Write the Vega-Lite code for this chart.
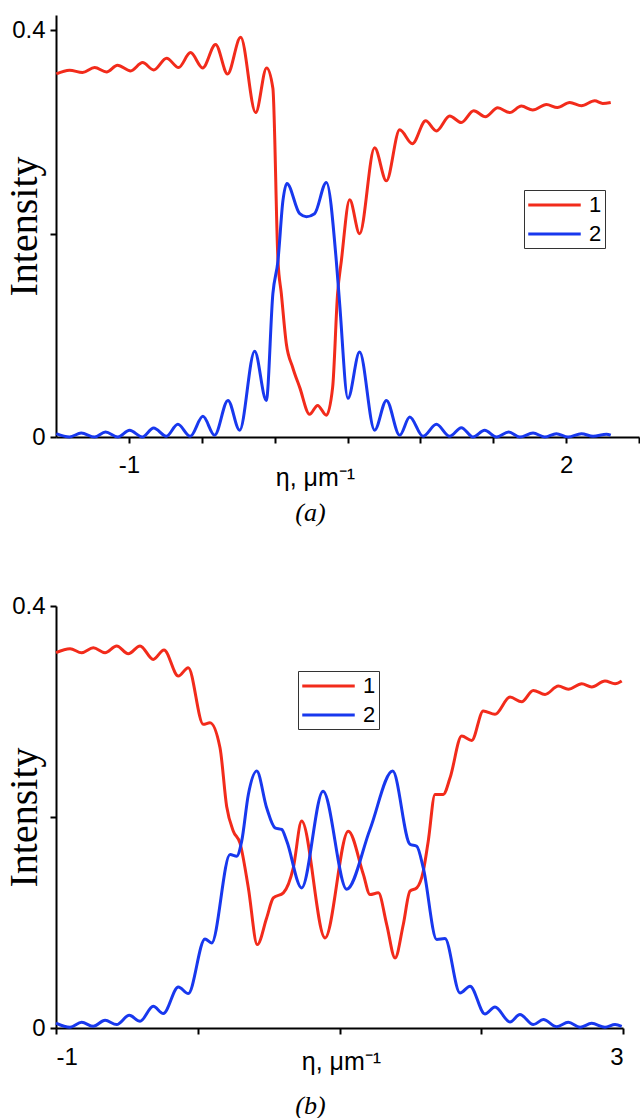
{
  "$schema": "https://vega.github.io/schema/vega-lite/v6.json",
  "autosize": {"type": "pad"},
  "padding": {"left": 4, "top": 15, "right": 0, "bottom": 0},
  "background": "white",
  "spacing": 68,
  "resolve": {"legend": {"color": "independent"}, "scale": {"color": "independent"}},
  "config": {
    "view": {"stroke": null},
    "axis": {"grid": false, "domainColor": "black", "domainWidth": 2, "tickColor": "black", "tickWidth": 2, "tickSize": 6, "labelFont": "Liberation Sans", "labelFontSize": 24, "labelColor": "black", "titleColor": "black"},
    "line": {"strokeWidth": 3, "interpolate": "monotone"},
    "legend": {"symbolType": "M-2.5,0H2.5", "symbolSize": 441, "symbolStrokeWidth": 3, "symbolOffset": 15.5, "labelFont": "Liberation Sans", "labelFontSize": 22, "labelColor": "black", "labelOffset": 22.5, "strokeColor": "#333333", "fillColor": "white", "padding": 3, "rowPadding": 6}
  },
  "datasets": {
    "a": [
      {"x": -1.498, "y": 0.357, "s": "1"}, {"x": -1.407, "y": 0.3607, "s": "1"}, {"x": -1.318, "y": 0.3584, "s": "1"}, {"x": -1.235, "y": 0.3633, "s": "1"}, {"x": -1.153, "y": 0.359, "s": "1"}, {"x": -1.078, "y": 0.3656, "s": "1"}, {"x": -0.988, "y": 0.36, "s": "1"}, {"x": -0.906, "y": 0.3682, "s": "1"}, {"x": -0.83, "y": 0.361, "s": "1"}, {"x": -0.741, "y": 0.3725, "s": "1"}, {"x": -0.659, "y": 0.3633, "s": "1"}, {"x": -0.577, "y": 0.378, "s": "1"}, {"x": -0.494, "y": 0.363, "s": "1"}, {"x": -0.405, "y": 0.386, "s": "1"}, {"x": -0.323, "y": 0.357, "s": "1"}, {"x": -0.233, "y": 0.393, "s": "1"}, {"x": -0.13, "y": 0.319, "s": "1"}, {"x": -0.055, "y": 0.363, "s": "1"}, {"x": -0.012, "y": 0.343, "s": "1"}, {"x": 0.023, "y": 0.1735, "s": "1"}, {"x": 0.046, "y": 0.141, "s": "1"}, {"x": 0.08, "y": 0.092, "s": "1"}, {"x": 0.124, "y": 0.0684, "s": "1"}, {"x": 0.172, "y": 0.0488, "s": "1"}, {"x": 0.24, "y": 0.0223, "s": "1"}, {"x": 0.295, "y": 0.0311, "s": "1"}, {"x": 0.355, "y": 0.0213, "s": "1"}, {"x": 0.398, "y": 0.0488, "s": "1"}, {"x": 0.432, "y": 0.141, "s": "1"}, {"x": 0.458, "y": 0.1735, "s": "1"}, {"x": 0.515, "y": 0.2333, "s": "1"}, {"x": 0.583, "y": 0.2, "s": "1"}, {"x": 0.686, "y": 0.2844, "s": "1"}, {"x": 0.767, "y": 0.2519, "s": "1"}, {"x": 0.858, "y": 0.3021, "s": "1"}, {"x": 0.945, "y": 0.2884, "s": "1"}, {"x": 1.036, "y": 0.311, "s": "1"}, {"x": 1.11, "y": 0.301, "s": "1"}, {"x": 1.201, "y": 0.3157, "s": "1"}, {"x": 1.281, "y": 0.3093, "s": "1"}, {"x": 1.366, "y": 0.3208, "s": "1"}, {"x": 1.446, "y": 0.3149, "s": "1"}, {"x": 1.531, "y": 0.3237, "s": "1"}, {"x": 1.613, "y": 0.3191, "s": "1"}, {"x": 1.693, "y": 0.3254, "s": "1"}, {"x": 1.771, "y": 0.3215, "s": "1"}, {"x": 1.865, "y": 0.327, "s": "1"}, {"x": 1.94, "y": 0.324, "s": "1"}, {"x": 2.025, "y": 0.329, "s": "1"}, {"x": 2.105, "y": 0.3257, "s": "1"}, {"x": 2.196, "y": 0.3306, "s": "1"}, {"x": 2.251, "y": 0.328, "s": "1"}, {"x": 2.306, "y": 0.329, "s": "1"},
      {"x": -1.498, "y": 0.0033, "s": "2"}, {"x": -1.407, "y": 0.0, "s": "2"}, {"x": -1.327, "y": 0.0039, "s": "2"}, {"x": -1.235, "y": 0.0, "s": "2"}, {"x": -1.16, "y": 0.0049, "s": "2"}, {"x": -1.076, "y": 0.0, "s": "2"}, {"x": -0.995, "y": 0.0066, "s": "2"}, {"x": -0.908, "y": 0.0, "s": "2"}, {"x": -0.83, "y": 0.0088, "s": "2"}, {"x": -0.743, "y": 0.0007, "s": "2"}, {"x": -0.664, "y": 0.0125, "s": "2"}, {"x": -0.579, "y": 0.0007, "s": "2"}, {"x": -0.492, "y": 0.0203, "s": "2"}, {"x": -0.412, "y": 0.0017, "s": "2"}, {"x": -0.32, "y": 0.036, "s": "2"}, {"x": -0.24, "y": 0.0066, "s": "2"}, {"x": -0.137, "y": 0.0844, "s": "2"}, {"x": -0.057, "y": 0.036, "s": "2"}, {"x": -0.012, "y": 0.141, "s": "2"}, {"x": 0.023, "y": 0.1735, "s": "2"}, {"x": 0.057, "y": 0.2324, "s": "2"}, {"x": 0.084, "y": 0.2494, "s": "2"}, {"x": 0.172, "y": 0.2196, "s": "2"}, {"x": 0.218, "y": 0.2167, "s": "2"}, {"x": 0.274, "y": 0.2196, "s": "2"}, {"x": 0.355, "y": 0.2504, "s": "2"}, {"x": 0.423, "y": 0.1735, "s": "2"}, {"x": 0.446, "y": 0.1313, "s": "2"}, {"x": 0.503, "y": 0.038, "s": "2"}, {"x": 0.583, "y": 0.0835, "s": "2"}, {"x": 0.686, "y": 0.0066, "s": "2"}, {"x": 0.767, "y": 0.036, "s": "2"}, {"x": 0.858, "y": 0.0017, "s": "2"}, {"x": 0.927, "y": 0.0196, "s": "2"}, {"x": 1.018, "y": 0.0007, "s": "2"}, {"x": 1.11, "y": 0.0125, "s": "2"}, {"x": 1.201, "y": 0.0007, "s": "2"}, {"x": 1.281, "y": 0.0092, "s": "2"}, {"x": 1.361, "y": 0.0, "s": "2"}, {"x": 1.441, "y": 0.0066, "s": "2"}, {"x": 1.522, "y": 0.0, "s": "2"}, {"x": 1.606, "y": 0.0049, "s": "2"}, {"x": 1.682, "y": 0.0, "s": "2"}, {"x": 1.773, "y": 0.0039, "s": "2"}, {"x": 1.853, "y": 0.0, "s": "2"}, {"x": 1.933, "y": 0.0033, "s": "2"}, {"x": 2.013, "y": 0.0, "s": "2"}, {"x": 2.105, "y": 0.0033, "s": "2"}, {"x": 2.185, "y": 0.0007, "s": "2"}, {"x": 2.277, "y": 0.0027, "s": "2"}, {"x": 2.306, "y": 0.0017, "s": "2"}
    ],
    "b": [
      {"x": -1.0, "y": 0.3557, "s": "1"}, {"x": -0.901, "y": 0.3595, "s": "1"}, {"x": -0.819, "y": 0.3557, "s": "1"}, {"x": -0.737, "y": 0.3604, "s": "1"}, {"x": -0.654, "y": 0.3557, "s": "1"}, {"x": -0.572, "y": 0.3621, "s": "1"}, {"x": -0.49, "y": 0.3547, "s": "1"}, {"x": -0.407, "y": 0.3621, "s": "1"}, {"x": -0.314, "y": 0.3494, "s": "1"}, {"x": -0.238, "y": 0.3583, "s": "1"}, {"x": -0.137, "y": 0.3336, "s": "1"}, {"x": -0.067, "y": 0.3415, "s": "1"}, {"x": 0.039, "y": 0.2878, "s": "1"}, {"x": 0.086, "y": 0.2893, "s": "1"}, {"x": 0.157, "y": 0.2656, "s": "1"}, {"x": 0.204, "y": 0.21, "s": "1"}, {"x": 0.251, "y": 0.1866, "s": "1"}, {"x": 0.298, "y": 0.1752, "s": "1"}, {"x": 0.357, "y": 0.1328, "s": "1"}, {"x": 0.42, "y": 0.0791, "s": "1"}, {"x": 0.486, "y": 0.1043, "s": "1"}, {"x": 0.533, "y": 0.1233, "s": "1"}, {"x": 0.604, "y": 0.1281, "s": "1"}, {"x": 0.674, "y": 0.1518, "s": "1"}, {"x": 0.733, "y": 0.1961, "s": "1"}, {"x": 0.898, "y": 0.0854, "s": "1"}, {"x": 1.062, "y": 0.1866, "s": "1"}, {"x": 1.168, "y": 0.1458, "s": "1"}, {"x": 1.215, "y": 0.1265, "s": "1"}, {"x": 1.274, "y": 0.1281, "s": "1"}, {"x": 1.333, "y": 0.0981, "s": "1"}, {"x": 1.392, "y": 0.0664, "s": "1"}, {"x": 1.45, "y": 0.0981, "s": "1"}, {"x": 1.497, "y": 0.1297, "s": "1"}, {"x": 1.545, "y": 0.1328, "s": "1"}, {"x": 1.591, "y": 0.1486, "s": "1"}, {"x": 1.626, "y": 0.1771, "s": "1"}, {"x": 1.674, "y": 0.2214, "s": "1"}, {"x": 1.732, "y": 0.2214, "s": "1"}, {"x": 1.78, "y": 0.2371, "s": "1"}, {"x": 1.862, "y": 0.2767, "s": "1"}, {"x": 1.933, "y": 0.2726, "s": "1"}, {"x": 2.014, "y": 0.3004, "s": "1"}, {"x": 2.097, "y": 0.2973, "s": "1"}, {"x": 2.203, "y": 0.3137, "s": "1"}, {"x": 2.285, "y": 0.3092, "s": "1"}, {"x": 2.367, "y": 0.32, "s": "1"}, {"x": 2.45, "y": 0.3162, "s": "1"}, {"x": 2.544, "y": 0.3241, "s": "1"}, {"x": 2.614, "y": 0.321, "s": "1"}, {"x": 2.709, "y": 0.3263, "s": "1"}, {"x": 2.779, "y": 0.3232, "s": "1"}, {"x": 2.873, "y": 0.3289, "s": "1"}, {"x": 2.944, "y": 0.3263, "s": "1"}, {"x": 2.991, "y": 0.3289, "s": "1"},
      {"x": -1.0, "y": 0.0047, "s": "2"}, {"x": -0.901, "y": 0.0007, "s": "2"}, {"x": -0.819, "y": 0.0054, "s": "2"}, {"x": -0.737, "y": 0.0016, "s": "2"}, {"x": -0.654, "y": 0.0073, "s": "2"}, {"x": -0.572, "y": 0.0032, "s": "2"}, {"x": -0.483, "y": 0.012, "s": "2"}, {"x": -0.407, "y": 0.0064, "s": "2"}, {"x": -0.314, "y": 0.0206, "s": "2"}, {"x": -0.243, "y": 0.0137, "s": "2"}, {"x": -0.137, "y": 0.0389, "s": "2"}, {"x": -0.067, "y": 0.0326, "s": "2"}, {"x": 0.051, "y": 0.0844, "s": "2"}, {"x": 0.098, "y": 0.0806, "s": "2"}, {"x": 0.228, "y": 0.1645, "s": "2"}, {"x": 0.275, "y": 0.1629, "s": "2"}, {"x": 0.31, "y": 0.1771, "s": "2"}, {"x": 0.357, "y": 0.2214, "s": "2"}, {"x": 0.416, "y": 0.2435, "s": "2"}, {"x": 0.486, "y": 0.2087, "s": "2"}, {"x": 0.545, "y": 0.1897, "s": "2"}, {"x": 0.592, "y": 0.1882, "s": "2"}, {"x": 0.628, "y": 0.1771, "s": "2"}, {"x": 0.733, "y": 0.1328, "s": "2"}, {"x": 0.884, "y": 0.2245, "s": "2"}, {"x": 1.051, "y": 0.1316, "s": "2"}, {"x": 1.215, "y": 0.1882, "s": "2"}, {"x": 1.375, "y": 0.2435, "s": "2"}, {"x": 1.497, "y": 0.1742, "s": "2"}, {"x": 1.545, "y": 0.1723, "s": "2"}, {"x": 1.591, "y": 0.1518, "s": "2"}, {"x": 1.686, "y": 0.0839, "s": "2"}, {"x": 1.744, "y": 0.0848, "s": "2"}, {"x": 1.85, "y": 0.0332, "s": "2"}, {"x": 1.921, "y": 0.0396, "s": "2"}, {"x": 2.026, "y": 0.0133, "s": "2"}, {"x": 2.097, "y": 0.0199, "s": "2"}, {"x": 2.203, "y": 0.0057, "s": "2"}, {"x": 2.273, "y": 0.0127, "s": "2"}, {"x": 2.367, "y": 0.0032, "s": "2"}, {"x": 2.438, "y": 0.008, "s": "2"}, {"x": 2.532, "y": 0.0013, "s": "2"}, {"x": 2.614, "y": 0.0054, "s": "2"}, {"x": 2.697, "y": 0.0007, "s": "2"}, {"x": 2.779, "y": 0.0044, "s": "2"}, {"x": 2.873, "y": 0.0007, "s": "2"}, {"x": 2.944, "y": 0.0032, "s": "2"}, {"x": 2.991, "y": 0.0016, "s": "2"}
    ]
  },
  "vconcat": [
    {
      "width": 583,
      "height": 422,
      "title": {"text": "(a)", "orient": "bottom", "font": "Liberation Serif", "fontStyle": "italic", "fontSize": 26, "fontWeight": "normal", "color": "black", "offset": 10, "dx": -37},
      "data": {"name": "a"},
      "mark": {"type": "line"},
      "encoding": {
        "x": {"field": "x", "type": "quantitative", "scale": {"domain": [-1.5, 2.5], "nice": false},
          "axis": {"values": [-1, -0.5, 0, 0.5, 1, 1.5, 2, 2.5], "labelExpr": "datum.value == -1 ? '-1' : (datum.value == 2 ? '2' : '')", "labelPadding": 10,
            "title": "η, μm⁻¹", "titleFont": "Liberation Sans", "titleFontSize": 25, "titleFontWeight": "normal", "titleX": 259, "titleY": 48, "titleBaseline": "alphabetic", "titleAlign": "center"}},
        "y": {"field": "y", "type": "quantitative", "scale": {"domain": [0, 0.415], "nice": false},
          "axis": {"values": [0, 0.2, 0.4], "labelExpr": "datum.value == 0 ? '0' : (datum.value == 0.4 ? '0.4' : '')", "labelPadding": 5,
            "title": "Intensity", "titleFont": "Liberation Serif", "titleFontSize": 40, "titleFontWeight": "normal", "titleX": -12, "titleY": 211, "titleAngle": -90, "titleBaseline": "bottom", "titleAlign": "center"}},
        "color": {"field": "s", "type": "nominal", "scale": {"domain": ["1", "2"], "range": ["#f22b1b", "#1838ee"]},
          "legend": {"orient": "none", "legendX": 468, "legendY": 175, "title": null}}
      }
    },
    {
      "width": 567,
      "height": 422,
      "title": {"text": "(b)", "orient": "bottom", "font": "Liberation Serif", "fontStyle": "italic", "fontSize": 26, "fontWeight": "normal", "color": "black", "offset": 19, "dx": -29},
      "data": {"name": "b"},
      "mark": {"type": "line"},
      "encoding": {
        "x": {"field": "x", "type": "quantitative", "scale": {"domain": [-1, 3], "nice": false},
          "axis": {"values": [-1, 0, 1, 2, 3], "labelExpr": "datum.value == -1 ? '-1' : (datum.value == 3 ? '3' : '')", "labelPadding": 11,
            "title": "η, μm⁻¹", "titleFont": "Liberation Sans", "titleFontSize": 25, "titleFontWeight": "normal", "titleX": 285, "titleY": 41, "titleBaseline": "alphabetic", "titleAlign": "center"}},
        "y": {"field": "y", "type": "quantitative", "scale": {"domain": [0, 0.4], "nice": false},
          "axis": {"values": [0, 0.2, 0.4], "labelExpr": "datum.value == 0 ? '0' : (datum.value == 0.4 ? '0.4' : '')", "labelPadding": 5,
            "title": "Intensity", "titleFont": "Liberation Serif", "titleFontSize": 40, "titleFontWeight": "normal", "titleX": -12, "titleY": 211, "titleAngle": -90, "titleBaseline": "bottom", "titleAlign": "center"}},
        "color": {"field": "s", "type": "nominal", "scale": {"domain": ["1", "2"], "range": ["#f22b1b", "#1838ee"]},
          "legend": {"orient": "none", "legendX": 242, "legendY": 65, "title": null}}
      }
    }
  ]
}
